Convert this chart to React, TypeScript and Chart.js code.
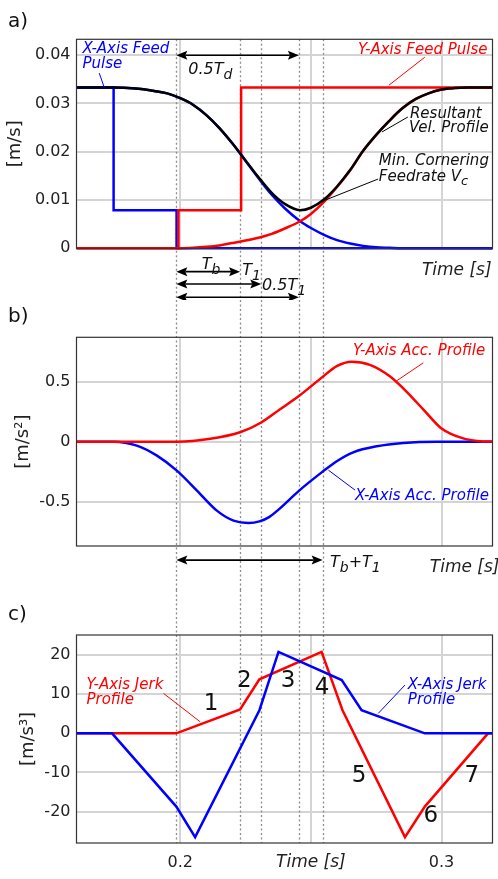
import React, { useEffect, useRef } from 'react';
import { Chart, registerables } from 'chart.js';
Chart.register(...registerables);
Chart.defaults.font.family = '"DejaVu Sans"';

const RED = '#ff0000';
const BLUE = '#0000ff';
const BLACK = '#000000';
const GRID = '#d4d4d4';

// ---- shared time axis ----
const T_MIN = 0.1603;
const T_MAX = 0.3195;
const X_TICKS = [0.2, 0.25, 0.3];
const DOTTED_T = [0.1985, 0.2229, 0.231, 0.2454, 0.2545];

// ---- panel a: velocities ----
const VEL_TICKS = [0, 0.01, 0.02, 0.03, 0.04];
const VEL_T = [0.1603, 0.1745, 0.18, 0.185, 0.19, 0.195, 0.2, 0.205, 0.21, 0.215, 0.22, 0.225, 0.23, 0.235, 0.24, 0.2459, 0.25, 0.255, 0.26, 0.265, 0.27, 0.275, 0.28, 0.285, 0.29, 0.295, 0.3, 0.305, 0.31, 0.3195];
const VEL_RESULT = [0.0333, 0.0333, 0.0332, 0.033, 0.0326, 0.0321, 0.0311, 0.0297, 0.0276, 0.0249, 0.0217, 0.0182, 0.0147, 0.0115, 0.0092, 0.0079, 0.0084, 0.0101, 0.0128, 0.0162, 0.0202, 0.0235, 0.0264, 0.029, 0.0309, 0.0321, 0.0329, 0.0332, 0.0333, 0.0333];
const VEL_X = [0.0333, 0.0333, 0.0332, 0.033, 0.0326, 0.0321, 0.0311, 0.0297, 0.0276, 0.0249, 0.0217, 0.0181, 0.0145, 0.0111, 0.0083, 0.0056, 0.0042, 0.0028, 0.0017, 0.001, 0.0005, 0.0002, 0.0001, 0, 0, 0, 0, 0, 0, 0];
const VEL_Y = [0, 0, 0, 0, 0, 0, 0, 0.0001, 0.0003, 0.0006, 0.0011, 0.0016, 0.0022, 0.003, 0.0041, 0.0056, 0.0071, 0.0096, 0.0127, 0.0161, 0.0202, 0.0235, 0.0264, 0.029, 0.0309, 0.0321, 0.0329, 0.0332, 0.0333, 0.0333];
const PULSE_X_T = [0.1603, 0.1745, 0.1745, 0.1986, 0.1986, 0.3195];
const PULSE_X_V = [0.0333, 0.0333, 0.0079, 0.0079, 0, 0];
const PULSE_Y_T = [0.1603, 0.1993, 0.1993, 0.2233, 0.2233, 0.3195];
const PULSE_Y_V = [0, 0, 0.0079, 0.0079, 0.0333, 0.0333];

// ---- panel b: accelerations ----
const ACC_TICKS = [-0.5, 0, 0.5];
const ACC_Y_T = [0.1603, 0.1987, 0.2115, 0.2229, 0.231, 0.2382, 0.2454, 0.2545, 0.2599, 0.2656, 0.2726, 0.2802, 0.286, 0.2936, 0.3, 0.3083, 0.3159, 0.3195];
const ACC_Y_V = [0, 0, 0.024, 0.078, 0.16, 0.27, 0.38, 0.54, 0.63, 0.667, 0.64, 0.545, 0.43, 0.255, 0.11, 0.027, 0.002, 0];
const ACC_X_T = [0.1603, 0.1745, 0.1834, 0.1911, 0.1987, 0.2064, 0.214, 0.2204, 0.2261, 0.2303, 0.234, 0.2376, 0.2454, 0.2545, 0.2599, 0.2662, 0.2752, 0.2853, 0.2981, 0.3195];
const ACC_X_V = [0, 0, -0.033, -0.117, -0.242, -0.408, -0.575, -0.658, -0.678, -0.665, -0.629, -0.567, -0.41, -0.25, -0.163, -0.089, -0.039, -0.011, 0, 0];

// ---- panel c: jerks ----
const JERK_TICKS = [-20, -10, 0, 10, 20];
const JERK_X_T = [0.1603, 0.1739, 0.1985, 0.2057, 0.2303, 0.2376, 0.2618, 0.2694, 0.2936, 0.3195];
const JERK_X_V = [0, 0, -18.7, -26.5, 5.9, 20.8, 13.6, 5.9, 0, 0];
const JERK_Y_T = [0.1603, 0.1985, 0.2229, 0.2303, 0.2541, 0.2621, 0.286, 0.2936, 0.3178, 0.3195];
const JERK_Y_V = [0, 0, 6.1, 13.8, 20.8, 5.9, -26.5, -18.7, 0, 0];

// ---- annotations (data units) ----
type Txt = { x: number; y: number; s: string; color: string; size: number; italic: boolean; align?: string; base?: string };
type Seg = { x1: number; y1: number; x2: number; y2: number; color: string };
type Arr = { x1: number; x2: number; y: number };

const A_TEXT: Txt[] = [
  { x: 0.1626, y: 0.0404, s: 'X-Axis Feed', color: BLUE, size: 15, italic: true },
  { x: 0.1626, y: 0.0373, s: 'Pulse', color: BLUE, size: 15, italic: true },
  { x: 0.2031, y: 0.0361, s: '0.5T_{d}', color: '#111', size: 16, italic: true },
  { x: 0.268, y: 0.0402, s: 'Y-Axis Feed Pulse', color: RED, size: 15, italic: true },
  { x: 0.2879, y: 0.027, s: 'Resultant', color: '#111', size: 15, italic: true },
  { x: 0.2875, y: 0.0241, s: 'Vel. Profile', color: '#111', size: 15, italic: true },
  { x: 0.276, y: 0.01725, s: 'Min. Cornering', color: '#111', size: 15, italic: true },
  { x: 0.276, y: 0.014, s: 'Feedrate V_{c}', color: '#111', size: 15, italic: true },
  { x: 0.2082, y: -0.0043, s: 'T_{b}', color: '#111', size: 16, italic: true },
  { x: 0.2237, y: -0.0055, s: 'T_{1}', color: '#111', size: 16, italic: true },
  { x: 0.2313, y: -0.0086, s: '0.5T_{1}', color: '#111', size: 16, italic: true },
  { x: 0.2925, y: -0.0055, s: 'Time [s]', color: '#222', size: 17, italic: true },
];
const A_SEG: Seg[] = [
  { x1: 0.169, y1: 0.0363, x2: 0.171, y2: 0.0332, color: BLUE },
  { x1: 0.2936, y1: 0.0396, x2: 0.2799, y2: 0.0338, color: RED },
  { x1: 0.2871, y1: 0.0272, x2: 0.2772, y2: 0.0241, color: BLACK },
  { x1: 0.2757, y1: 0.01435, x2: 0.2546, y2: 0.00979, color: BLACK },
];
const A_ARR: Arr[] = [
  { x1: DOTTED_T[0], x2: DOTTED_T[3], y: 0.04 },
  { x1: DOTTED_T[0], x2: DOTTED_T[1], y: -0.00484 },
  { x1: DOTTED_T[0], x2: DOTTED_T[2], y: -0.00739 },
  { x1: DOTTED_T[0], x2: DOTTED_T[3], y: -0.01014 },
];

const B_TEXT: Txt[] = [
  { x: 0.2661, y: 0.721, s: 'Y-Axis Acc. Profile', color: RED, size: 15, italic: true },
  { x: 0.2669, y: -0.4875, s: 'X-Axis Acc. Profile', color: BLUE, size: 15, italic: true },
  { x: 0.2573, y: -1.043, s: 'T_{b}+T_{1}', color: '#111', size: 16, italic: true },
  { x: 0.2955, y: -1.0875, s: 'Time [s]', color: '#222', size: 17, italic: true },
];
const B_SEG: Seg[] = [
  { x1: 0.293, y1: 0.657, x2: 0.2828, y2: 0.507, color: RED },
  { x1: 0.2669, y1: -0.404, x2: 0.2567, y2: -0.2375, color: BLUE },
];
const B_ARR: Arr[] = [{ x1: DOTTED_T[0], x2: DOTTED_T[4], y: -0.9875 }];

const C_TEXT: Txt[] = [
  { x: 0.1641, y: 11.3, s: 'Y-Axis Jerk', color: RED, size: 15, italic: true },
  { x: 0.1641, y: 7.47, s: 'Profile', color: RED, size: 15, italic: true },
  { x: 0.2871, y: 11.3, s: 'X-Axis Jerk', color: BLUE, size: 15, italic: true },
  { x: 0.2871, y: 7.47, s: 'Profile', color: BLUE, size: 15, italic: true },
  { x: 0.2118, y: 7.47, s: '1', color: '#111', size: 23, italic: false, align: 'center', base: 'middle' },
  { x: 0.2245, y: 13.34, s: '2', color: '#111', size: 23, italic: false, align: 'center', base: 'middle' },
  { x: 0.2413, y: 13.34, s: '3', color: '#111', size: 23, italic: false, align: 'center', base: 'middle' },
  { x: 0.2543, y: 11.56, s: '4', color: '#111', size: 23, italic: false, align: 'center', base: 'middle' },
  { x: 0.2684, y: -10.89, s: '5', color: '#111', size: 23, italic: false, align: 'center', base: 'middle' },
  { x: 0.2959, y: -21.1, s: '6', color: '#111', size: 23, italic: false, align: 'center', base: 'middle' },
  { x: 0.3116, y: -10.89, s: '7', color: '#111', size: 23, italic: false, align: 'center', base: 'middle' },
  { x: 0.25, y: -33.1, s: 'Time [s]', color: '#222', size: 17, italic: true, align: 'center', base: 'middle' },
];
const C_SEG: Seg[] = [
  { x1: 0.1936, y1: 10.2, x2: 0.2076, y2: 2.96, color: RED },
  { x1: 0.286, y1: 12.32, x2: 0.2758, y2: 5.1, color: BLUE },
];

function drawRich(ctx: CanvasRenderingContext2D, px: number, py: number, o: Txt) {
  const segs = o.s.split(/_\{([^}]*)\}/);
  const st = o.italic ? 'italic ' : '';
  const mainFont = `${st}${o.size}px "DejaVu Sans"`;
  const subFont = `${st}${Math.round(o.size * 0.85)}px "DejaVu Sans"`;
  let w = 0;
  segs.forEach((s, i) => { ctx.font = i % 2 ? subFont : mainFont; w += ctx.measureText(s).width; });
  let x = o.align === 'center' ? px - w / 2 : o.align === 'right' ? px - w : px;
  ctx.fillStyle = o.color;
  ctx.textAlign = 'left';
  ctx.textBaseline = (o.base || 'alphabetic') as CanvasTextBaseline;
  segs.forEach((s, i) => {
    ctx.font = i % 2 ? subFont : mainFont;
    ctx.fillText(s, x, py + (i % 2 ? o.size * 0.3 : 0));
    x += ctx.measureText(s).width;
  });
}

function drawArrow(ctx: CanvasRenderingContext2D, x1: number, x2: number, y: number) {
  const L = 11, H = 4.5;
  ctx.strokeStyle = '#000';
  ctx.fillStyle = '#000';
  ctx.lineWidth = 1.6;
  ctx.beginPath(); ctx.moveTo(x1 + L - 2, y); ctx.lineTo(x2 - L + 2, y); ctx.stroke();
  ctx.beginPath(); ctx.moveTo(x1, y); ctx.lineTo(x1 + L, y - H); ctx.lineTo(x1 + L - 2, y); ctx.lineTo(x1 + L, y + H); ctx.closePath(); ctx.fill();
  ctx.beginPath(); ctx.moveTo(x2, y); ctx.lineTo(x2 - L, y - H); ctx.lineTo(x2 - L + 2, y); ctx.lineTo(x2 - L, y + H); ctx.closePath(); ctx.fill();
}

type PanelSpec = {
  top: number; h: number; padLeft: number; padTop: number; xHeight: number;
  yMin: number; yMax: number; yTicks: number[]; yFmt: (v: number) => string; yTitle: string;
  showX: boolean; datasets: any[]; texts: Txt[]; segs: Seg[]; arrows: Arr[];
  dotTopArea: boolean; dotBottomArea: boolean; label: string; labelY: number;
};

const line = (T: number[], V: number[], color: string, smooth: boolean) => ({
  data: T.map((t, i) => ({ x: t, y: V[i] })),
  borderColor: color,
  borderWidth: 2.5,
  pointRadius: 0,
  fill: false,
  tension: 0,
  cubicInterpolationMode: smooth ? 'monotone' : 'default',
  clip: 4,
});

const PANELS: PanelSpec[] = [
  {
    top: 0, h: 300, padLeft: 4.2, padTop: 39.3, xHeight: 51.7, yMin: 0, yMax: 0.0433,
    yTicks: VEL_TICKS, yFmt: (v) => (v === 0 ? '0' : v.toFixed(2)), yTitle: '[m/s]', showX: false,
    datasets: [
      line(VEL_T, VEL_RESULT, BLACK, true),
      line(VEL_T, VEL_Y, RED, true),
      line(VEL_T, VEL_X, BLUE, true),
      line(PULSE_Y_T, PULSE_Y_V, RED, false),
      line(PULSE_X_T, PULSE_X_V, BLUE, false),
    ],
    texts: A_TEXT, segs: A_SEG, arrows: A_ARR, dotTopArea: true, dotBottomArea: false, label: 'a)', labelY: 27,
  },
  {
    top: 300, h: 290, padLeft: 12.2, padTop: 37.3, xHeight: 44, yMin: -0.87, yMax: 0.87,
    yTicks: ACC_TICKS, yFmt: (v) => String(v), yTitle: '[m/s²]', showX: false,
    datasets: [line(ACC_Y_T, ACC_Y_V, RED, true), line(ACC_X_T, ACC_X_V, BLUE, true)],
    texts: B_TEXT, segs: B_SEG, arrows: B_ARR, dotTopArea: false, dotBottomArea: false, label: 'b)', labelY: 22,
  },
  {
    top: 590, h: 289, padLeft: 17.2, padTop: 45, xHeight: 36, yMin: -28, yMax: 25.1,
    yTicks: JERK_TICKS, yFmt: (v) => String(v), yTitle: '[m/s³]', showX: true,
    datasets: [line(JERK_X_T, JERK_X_V, BLUE, false), line(JERK_Y_T, JERK_Y_V, RED, false)],
    texts: C_TEXT, segs: C_SEG, arrows: [], dotTopArea: false, dotBottomArea: true, label: 'c)', labelY: 30,
  },
];

function makeOverlay(p: PanelSpec) {
  return {
    id: 'overlay',
    beforeDatasetsDraw(chart: any) {
      const { ctx, chartArea } = chart;
      const x = chart.scales.x;
      const y0 = p.dotTopArea ? chartArea.top : 0;
      const y1 = p.dotBottomArea ? chartArea.bottom : chart.height;
      ctx.save();
      ctx.strokeStyle = '#8c8c8c';
      ctx.lineWidth = 1.3;
      ctx.setLineDash([2, 2.5]);
      DOTTED_T.forEach((t) => {
        const px = Math.round(x.getPixelForValue(t)) + 0.5;
        ctx.beginPath(); ctx.moveTo(px, y0); ctx.lineTo(px, y1); ctx.stroke();
      });
      ctx.restore();
    },
    afterDraw(chart: any) {
      const { ctx, chartArea } = chart;
      const x = chart.scales.x;
      const y = chart.scales.y;
      ctx.save();
      ctx.strokeStyle = '#333';
      ctx.lineWidth = 1.2;
      ctx.strokeRect(chartArea.left, chartArea.top, chartArea.right - chartArea.left, chartArea.bottom - chartArea.top);
      p.segs.forEach((s) => {
        ctx.strokeStyle = s.color;
        ctx.lineWidth = 1;
        ctx.beginPath();
        ctx.moveTo(x.getPixelForValue(s.x1), y.getPixelForValue(s.y1));
        ctx.lineTo(x.getPixelForValue(s.x2), y.getPixelForValue(s.y2));
        ctx.stroke();
      });
      p.arrows.forEach((a) => drawArrow(ctx, x.getPixelForValue(a.x1), x.getPixelForValue(a.x2), y.getPixelForValue(a.y)));
      p.texts.forEach((t) => drawRich(ctx, x.getPixelForValue(t.x), y.getPixelForValue(t.y), t));
      ctx.font = '20px "DejaVu Sans"';
      ctx.fillStyle = '#111';
      ctx.textAlign = 'left';
      ctx.textBaseline = 'alphabetic';
      ctx.fillText(p.label, 8, p.labelY);
      ctx.restore();
    },
  };
}

function makeConfig(p: PanelSpec): any {
  return {
    type: 'line',
    data: { datasets: p.datasets },
    options: {
      animation: false,
      responsive: false,
      maintainAspectRatio: false,
      devicePixelRatio: 1,
      layout: { padding: { left: p.padLeft, top: p.padTop, right: 5.5, bottom: 0 } },
      plugins: { legend: { display: false }, tooltip: { enabled: false }, title: { display: false } },
      elements: { point: { radius: 0 } },
      scales: {
        x: {
          type: 'linear', min: T_MIN, max: T_MAX,
          afterBuildTicks: (s: any) => { s.ticks = X_TICKS.map((v) => ({ value: v })); },
          afterFit: (s: any) => { s.height = p.xHeight; },
          grid: { color: GRID, lineWidth: 2, drawTicks: false },
          border: { display: false },
          ticks: {
            display: p.showX, autoSkip: false, maxRotation: 0, padding: 10,
            font: { size: 16 }, color: '#222',
            callback: (v: number) => (v === 0.25 ? '' : v.toFixed(1)),
          },
        },
        y: {
          type: 'linear', min: p.yMin, max: p.yMax,
          afterBuildTicks: (s: any) => { s.ticks = p.yTicks.map((v) => ({ value: v })); },
          afterFit: (s: any) => { s.width = 76.5 - p.padLeft; },
          grid: { color: GRID, lineWidth: 2, drawTicks: false },
          border: { display: false },
          ticks: { padding: 6, font: { size: 16 }, color: '#222', callback: (v: number) => p.yFmt(v) },
          title: { display: true, text: p.yTitle, font: { size: 18 }, color: '#222', padding: 0 },
        },
      },
    },
    plugins: [makeOverlay(p)],
  };
}

function Panel({ spec }: { spec: PanelSpec }) {
  const ref = useRef<HTMLCanvasElement>(null);
  useEffect(() => {
    const chart = new Chart(ref.current as HTMLCanvasElement, makeConfig(spec));
    return () => chart.destroy();
  }, []);
  return (
    <canvas
      ref={ref}
      width={498}
      height={spec.h}
      style={{ position: 'absolute', left: 0, top: spec.top, width: 498, height: spec.h, display: 'block' }}
    />
  );
}

export default function App() {
  return (
    <div style={{ position: 'absolute', left: 0, top: 0, width: 498, height: 879, background: '#fff', overflow: 'hidden' }}>
      {PANELS.map((p, i) => (
        <Panel key={i} spec={p} />
      ))}
    </div>
  );
}
